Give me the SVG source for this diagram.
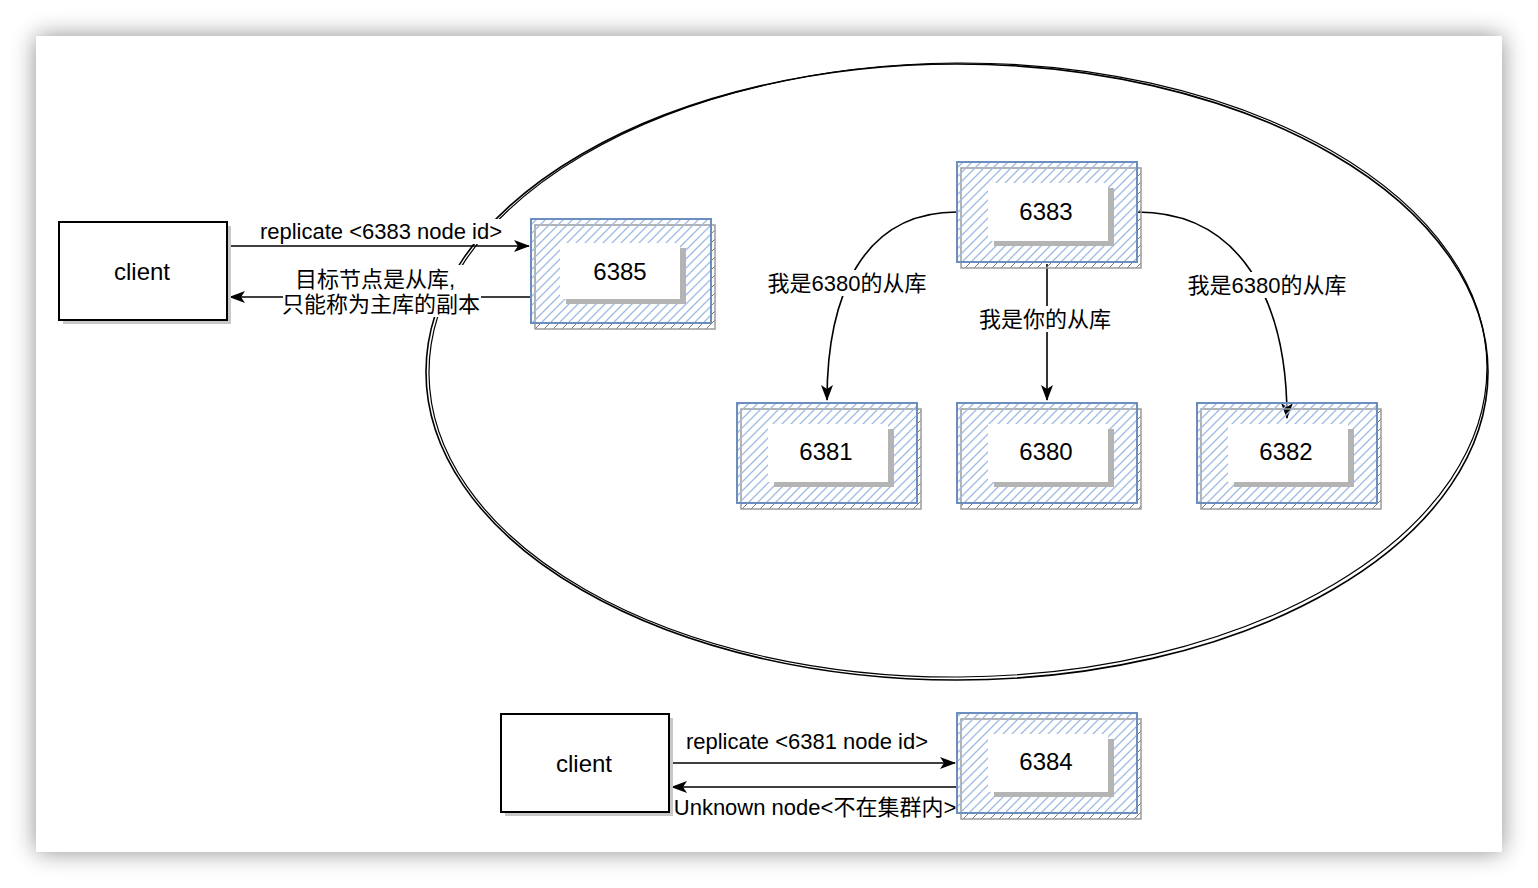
<svg xmlns="http://www.w3.org/2000/svg" width="1538" height="888" viewBox="0 0 1538 888">
<defs>
  <filter id="pageShadow" x="-5%" y="-5%" width="110%" height="110%">
    <feGaussianBlur in="SourceAlpha" stdDeviation="12"/>
    <feComponentTransfer><feFuncA type="linear" slope="0.45"/></feComponentTransfer>
    <feMerge><feMergeNode/><feMergeNode in="SourceGraphic"/></feMerge>
  </filter>
  <pattern id="hatchBlue" patternUnits="userSpaceOnUse" width="9" height="9">
    <path d="M-1,1 L1,-1 M0,9 L9,0 M8,10 L10,8" stroke="#9fbbe3" stroke-width="1.3"/>
  </pattern>
  <pattern id="hatchGray" patternUnits="userSpaceOnUse" width="9" height="9">
    <path d="M-1,1 L1,-1 M0,9 L9,0 M8,10 L10,8" stroke="#7a7a7a" stroke-width="1"/>
  </pattern>
  <marker id="arrow" viewBox="0 0 16 12" refX="15" refY="6" markerWidth="16" markerHeight="12" markerUnits="userSpaceOnUse" orient="auto">
    <path d="M0,0 L16,6 L0,12 L4,6 Z" fill="#000"/>
  </marker>
  <style>
    .lbl { font-family: "Liberation Sans", Arial, "Noto Sans CJK SC", sans-serif; font-size: 24px; fill: #000; text-anchor: middle; }
    .elbl { font-family: "Liberation Sans", Arial, "Noto Sans CJK SC", sans-serif; font-size: 22px; fill: #000; text-anchor: middle; }
    .outer { fill: url(#hatchBlue); stroke: #6c8ebf; stroke-width: 2; }
    .outerShadow { fill: url(#hatchGray); stroke: #9a9a9a; stroke-width: 1.5; }
    .inner { fill: #fff; stroke: none; }
    .innerShadow { fill: #b4b4b4; }
    .client { fill: #fff; stroke: #000; stroke-width: 2; }
    .clientShadow { fill: #c8c8c8; }
    .edge { fill: none; stroke: #000; stroke-width: 1.6; }
    .bg { fill: #fff; }
  </style>
</defs>
<rect x="0" y="0" width="1538" height="888" fill="#ffffff"/>
<rect x="36" y="36" width="1466" height="816" fill="#ffffff" filter="url(#pageShadow)"/>

<g id="cluster">
  <ellipse cx="957" cy="372" rx="531" ry="308" fill="none" stroke="#000" stroke-width="1.6"/>
  <ellipse cx="958" cy="370" rx="529" ry="307" fill="none" stroke="#000" stroke-width="1.2" transform="rotate(-0.4 957 372)"/>
</g>

<g id="connectors">
  <path class="edge" d="M227,246 L529,246" marker-end="url(#arrow)"/>
  <path class="edge" d="M531,297 L230,297" marker-end="url(#arrow)"/>
  <path class="edge" d="M957,212 C860,212 827,300 827,400" marker-end="url(#arrow)"/>
  <path class="edge" d="M1047,264 L1047,400" marker-end="url(#arrow)"/>
  <path class="edge" d="M1137,212 C1240,212 1287,300 1287,418" marker-end="url(#arrow)"/>
  <path class="edge" d="M669,763 L955,763" marker-end="url(#arrow)"/>
  <path class="edge" d="M957,787 L672,787" marker-end="url(#arrow)"/>

  <rect class="bg" x="258" y="219" width="246" height="25"/>
  <text class="elbl" x="381" y="239">replicate &lt;6383 node id&gt;</text>
  <rect class="bg" x="283" y="265" width="198" height="52"/>
  <text class="elbl" x="375" y="287">目标节点是从库,</text>
  <text class="elbl" x="381" y="312">只能称为主库的副本</text>

  <rect class="bg" x="766" y="270" width="162" height="26"/>
  <text class="elbl" x="847" y="291">我是6380的从库</text>
  <rect class="bg" x="978" y="306" width="134" height="26"/>
  <text class="elbl" x="1045" y="327">我是你的从库</text>
  <rect class="bg" x="1186" y="272" width="162" height="26"/>
  <text class="elbl" x="1267" y="293">我是6380的从库</text>

  <text class="elbl" x="807" y="749">replicate &lt;6381 node id&gt;</text>
  <text class="elbl" x="815" y="815">Unknown node&lt;不在集群内&gt;</text>
</g>

<g id="client1">
  <rect class="clientShadow" x="63" y="226" width="168" height="98"/>
  <rect class="client" x="59" y="222" width="168" height="98"/>
  <text class="lbl" x="142" y="280">client</text>
</g>

<g id="client2">
  <rect class="clientShadow" x="505" y="718" width="168" height="98"/>
  <rect class="client" x="501" y="714" width="168" height="98"/>
  <text class="lbl" x="584" y="772">client</text>
</g>

<g id="node6385">
  <rect class="outerShadow" x="535" y="225" width="180" height="104"/>
  <rect class="outer" x="531" y="219" width="180" height="104"/>
  <rect class="innerShadow" x="566" y="248" width="120" height="56"/>
  <rect class="inner" x="560" y="243" width="120" height="56"/>
  <text class="lbl" x="620" y="280">6385</text>
</g>

<g id="node6383">
  <rect class="outerShadow" x="961" y="168" width="180" height="100"/>
  <rect class="outer" x="957" y="162" width="180" height="100"/>
  <rect class="innerShadow" x="994" y="188" width="120" height="58"/>
  <rect class="inner" x="988" y="183" width="120" height="58"/>
  <text class="lbl" x="1046" y="220">6383</text>
</g>

<g id="node6381">
  <rect class="outerShadow" x="741" y="409" width="180" height="100"/>
  <rect class="outer" x="737" y="403" width="180" height="100"/>
  <rect class="innerShadow" x="774" y="429" width="120" height="58"/>
  <rect class="inner" x="768" y="424" width="120" height="58"/>
  <text class="lbl" x="826" y="460">6381</text>
</g>

<g id="node6380">
  <rect class="outerShadow" x="961" y="409" width="180" height="100"/>
  <rect class="outer" x="957" y="403" width="180" height="100"/>
  <rect class="innerShadow" x="994" y="429" width="120" height="58"/>
  <rect class="inner" x="988" y="424" width="120" height="58"/>
  <text class="lbl" x="1046" y="460">6380</text>
</g>

<g id="node6382">
  <rect class="outerShadow" x="1201" y="409" width="180" height="100"/>
  <rect class="outer" x="1197" y="403" width="180" height="100"/>
  <rect class="innerShadow" x="1234" y="429" width="120" height="58"/>
  <rect class="inner" x="1228" y="424" width="120" height="58"/>
  <text class="lbl" x="1286" y="460">6382</text>
</g>

<g id="node6384">
  <rect class="outerShadow" x="961" y="719" width="180" height="100"/>
  <rect class="outer" x="957" y="713" width="180" height="100"/>
  <rect class="innerShadow" x="994" y="739" width="120" height="58"/>
  <rect class="inner" x="988" y="734" width="120" height="58"/>
  <text class="lbl" x="1046" y="770">6384</text>
</g>
</svg>
